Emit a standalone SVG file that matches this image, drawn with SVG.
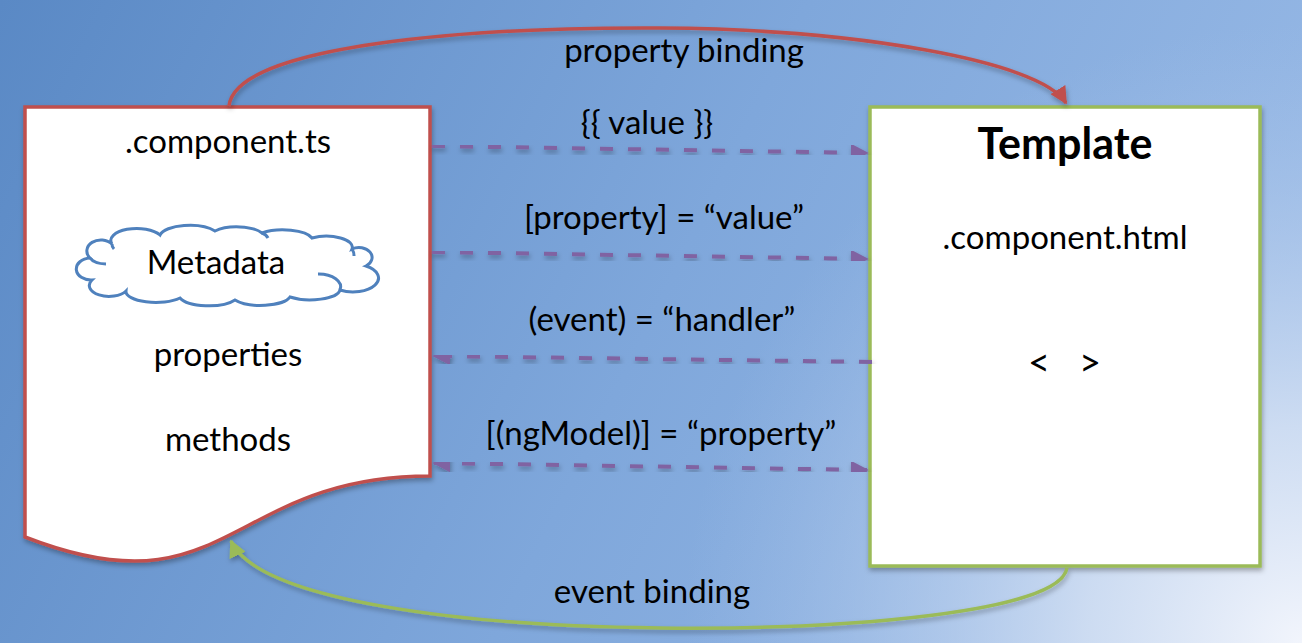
<svg xmlns="http://www.w3.org/2000/svg" width="1302" height="643" viewBox="0 0 1302 643">
<defs>
<linearGradient id="bg" x1="0" y1="0" x2="1302" y2="643" gradientUnits="userSpaceOnUse">
<stop offset="0" stop-color="#5A89C5"/>
<stop offset="0.5" stop-color="#7FA7DB"/>
<stop offset="1" stop-color="#9DBDE8"/>
</linearGradient>
<radialGradient id="glow" cx="1302" cy="643" r="620" gradientUnits="userSpaceOnUse">
<stop offset="0" stop-color="#F2F5FC" stop-opacity="1"/>
<stop offset="0.35" stop-color="#D6E2F4" stop-opacity="0.85"/>
<stop offset="1" stop-color="#A9C4EA" stop-opacity="0"/>
</radialGradient>
<filter id="sh" x="-10%" y="-10%" width="120%" height="130%">
<feDropShadow dx="1" dy="3" stdDeviation="2.5" flood-color="#000" flood-opacity="0.3"/>
</filter>
<marker id="arP" viewBox="0 0 10 10" refX="9" refY="5" markerWidth="4.5" markerHeight="4.5" orient="auto-start-reverse" markerUnits="strokeWidth">
<path d="M0,0 L10,5 L0,10 z" fill="#8064A2"/>
</marker>
<marker id="arR" viewBox="0 0 10 10" refX="9" refY="5" markerWidth="5" markerHeight="5" orient="auto" markerUnits="strokeWidth">
<path d="M0,0 L10,5 L0,10 z" fill="#C0504D"/>
</marker>
<marker id="arG" viewBox="0 0 10 10" refX="9" refY="5" markerWidth="5" markerHeight="5" orient="auto" markerUnits="strokeWidth">
<path d="M0,0 L10,5 L0,10 z" fill="#9BBB59"/>
</marker>
</defs>
<style>
text{font-family:"Lato","Liberation Sans",sans-serif;fill:#000;text-anchor:middle}
.lbl{font-size:33px}
.in{font-size:33px}
.cl{fill:none;stroke:#4F81BD;stroke-width:3}
.dash{fill:none;stroke:#8064A2;stroke-width:4;stroke-dasharray:13 15;filter:url(#sh)}
</style>
<rect width="1302" height="643" fill="url(#bg)"/>
<rect width="1302" height="643" fill="url(#glow)"/>

<g id="component">
<path d="M25,107 H430 V476 C227.5,476 227.5,616 25,537 Z" fill="#fff" stroke="#C0504D" stroke-width="3.5" filter="url(#sh)"/>
<text class="in" x="228" y="153">.component.ts</text>
<text class="in" x="228" y="366">properties</text>
<text class="in" x="228" y="451">methods</text>
</g>

<g id="metadata">
<path d="M90,258 A14,11 0 0 1 112,244 A26,12 0 0 1 160,235 A30,12 0 0 1 215,231 A28,11 0 0 1 262,233 A30,11 0 0 1 312,238 A26,11 0 0 1 352,249 A13,10 0 0 1 366,266 A22,12 0 0 1 340,290 A30,11 0 0 1 290,297 A30,11 0 0 1 235,300 A30,11 0 0 1 180,298 A30,11 0 0 1 126,291 A18,10 0 0 1 92,280 A12,9 0 0 1 90,258 Z" fill="#fff" stroke="#4F81BD" stroke-width="3"/>
<path class="cl" d="M90,258 A18,9 0 0 0 106,264"/>
<path class="cl" d="M112,244 A14,9 0 0 0 114,249"/>
<path class="cl" d="M352,249 A12,12 0 0 1 354,256"/>
<path class="cl" d="M340,290 A22,13 0 0 0 318,274"/>
<path class="cl" d="M262,233 A12,9 0 0 1 268,238"/>
<text class="in" x="216" y="274">Metadata</text>
</g>

<g id="template">
<rect x="870" y="107" width="390" height="459" fill="#fff" stroke="#9BBB59" stroke-width="3.5" filter="url(#sh)"/>
<text x="1065" y="159" style="font-size:43px;font-weight:bold">Template</text>
<text class="in" x="1065" y="249">.component.html</text>
<text x="1039" y="376" style="font-size:38px">&lt;</text>
<text x="1090" y="376" style="font-size:38px">&gt;</text>
</g>

<g id="connectors">
<path d="M229,106 C236,45 470,27 660,28 C850,29 1040,60 1066,103" fill="none" stroke="#C0504D" stroke-width="3.5" marker-end="url(#arR)" filter="url(#sh)"/>
<path d="M1067,568 C1060,612 850,630 660,628 C460,626 258,600 231,541" fill="none" stroke="#9BBB59" stroke-width="3.5" marker-end="url(#arG)" filter="url(#sh)"/>
<path class="dash" d="M432,146 L867,153" marker-end="url(#arP)"/>
<path class="dash" d="M432,252 L867,259" marker-end="url(#arP)"/>
<path class="dash" d="M872,362 L434,356" marker-end="url(#arP)"/>
<path class="dash" d="M434,463 L867,470" marker-start="url(#arP)" marker-end="url(#arP)"/>
</g>

<g id="labels">
<text class="lbl" x="684" y="62">property binding</text>
<text class="lbl" x="647" y="134">{{ value }}</text>
<text class="lbl" x="664" y="229">[property] = “value”</text>
<text class="lbl" x="662" y="331">(event) = “handler”</text>
<text class="lbl" x="661" y="445">[(ngModel)] = “property”</text>
<text class="lbl" x="652" y="603">event binding</text>
</g>
</svg>
